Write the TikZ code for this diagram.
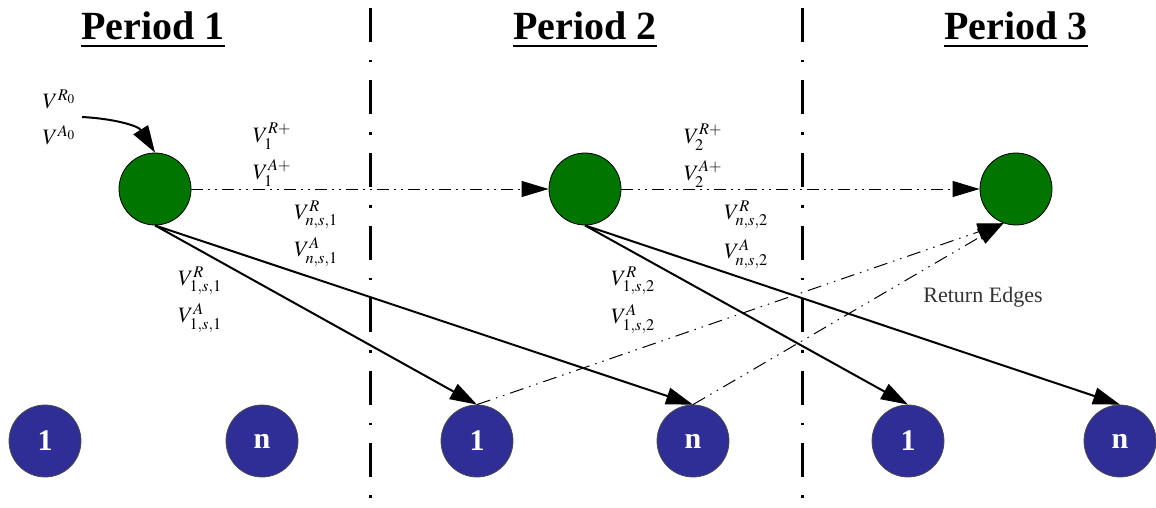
\documentclass[tikz,border=0pt]{standalone}
\usepackage{mathptmx}
\usepackage[no-math]{fontspec}
\setmainfont{Liberation Serif}
\usetikzlibrary{arrows.meta}
\definecolor{nodegreen}{RGB}{0,118,0}
\definecolor{nodeblue}{RGB}{46,46,150}
\tikzset{
  gnode/.style={circle,draw=black,line width=0.8pt,fill=nodegreen,minimum size=72pt,inner sep=0pt},
  bnode/.style={circle,draw=black!70,line width=0.8pt,fill=nodeblue,minimum size=72pt,inner sep=0pt,
    text=white,font=\fontsize{30}{34}\selectfont\bfseries},
  solidarrow/.style={line width=2pt,-{Triangle[length=27pt,width=17pt]}},
  horizarrow/.style={line width=1pt,dash pattern=on 12pt off 5pt on 2pt off 5pt on 2pt off 5pt,
    -{Triangle[length=27pt,width=16pt]}},
  retarrow/.style={line width=1pt,dash pattern=on 14pt off 6pt on 1.5pt off 6pt on 1.5pt off 6pt,
    -{Triangle[length=26pt,width=17pt]}},
  sepline/.style={line width=3pt,dash pattern=on 34pt off 18pt on 2.5pt off 18pt},
  lbl/.style={inner sep=0pt,font=\fontsize{22}{26}\selectfont},
  title/.style={inner sep=0pt,anchor=base,font=\fontsize{40}{48}\selectfont\bfseries},
}
\begin{document}
\begin{tikzpicture}[x=1pt,y=-1pt]
\useasboundingbox (0,0) rectangle (1156,508);
% separators
\coordinate (s1a) at (370,8); \coordinate (s1b) at (370,508);
\coordinate (s2a) at (802,8); \coordinate (s2b) at (802,508);
\draw[sepline] (s1a) -- (s1b);
\draw[sepline] (s2a) -- (s2b);
% titles
\node[title] (t1) at (153,40) {Period 1};
\node[title] (t2) at (585,40) {Period 2};
\node[title] (t3) at (1016,40) {Period 3};
\foreach \t in {t1,t2,t3} {\draw[line width=2.5pt] ([yshift=-6pt]\t.base west) -- ([yshift=-6pt]\t.base east);}
% nodes
\node[gnode] (g1) at (155,189) {};
\node[gnode] (g2) at (585,189) {};
\node[gnode] (g3) at (1016,189) {};
\node[bnode] (b11) at (45,441) {1};
\node[bnode] (bn1) at (262,441) {n};
\node[bnode] (b12) at (477,441) {1};
\node[bnode] (bn2) at (693,441) {n};
\node[bnode] (b13) at (908,441) {1};
\node[bnode] (bn3) at (1120,441) {n};
% edges
\coordinate (c0) at (82,117);
\draw[solidarrow] (c0) to[out=-3,in=122] (g1.north);
\draw[horizarrow] (g1.east) -- (g2.west);
\draw[horizarrow] (g2.east) -- (g3.west);
\draw[solidarrow] (g1.south) -- (b12.north);
\draw[solidarrow] (g1.south) -- (bn2.north);
\draw[solidarrow] (g2.south) -- (b13.north);
\draw[solidarrow] (g2.south) -- (bn3.north);
\draw[retarrow] (b12.north) -- (g3.250);
\draw[retarrow] (bn2.north) -- (g3.250);
% labels
\node[lbl] (l1) at (59,99) {$V^{R_0}$};
\node[lbl] (l2) at (59,135) {$V^{A_0}$};
\node[lbl] (l3) at (272,136) {$V_1^{R+}$};
\node[lbl] (l4) at (272,173) {$V_1^{A+}$};
\node[lbl] (l5) at (316,215) {$V_{n,s,1}^{R}$};
\node[lbl] (l6) at (316,252) {$V_{n,s,1}^{A}$};
\node[lbl] (l7) at (200,281) {$V_{1,s,1}^{R}$};
\node[lbl] (l8) at (200,318) {$V_{1,s,1}^{A}$};
\node[lbl] (l9) at (703,137) {$V_2^{R+}$};
\node[lbl] (l10) at (703,174) {$V_2^{A+}$};
\node[lbl] (l11) at (746,215) {$V_{n,s,2}^{R}$};
\node[lbl] (l12) at (746,254) {$V_{n,s,2}^{A}$};
\node[lbl] (l13) at (633,281) {$V_{1,s,2}^{R}$};
\node[lbl] (l14) at (633,319) {$V_{1,s,2}^{A}$};
\node[inner sep=0pt,font=\fontsize{22}{26}\selectfont,text=black!80] (re) at (983,297) {Return Edges};
\end{tikzpicture}
\end{document}
